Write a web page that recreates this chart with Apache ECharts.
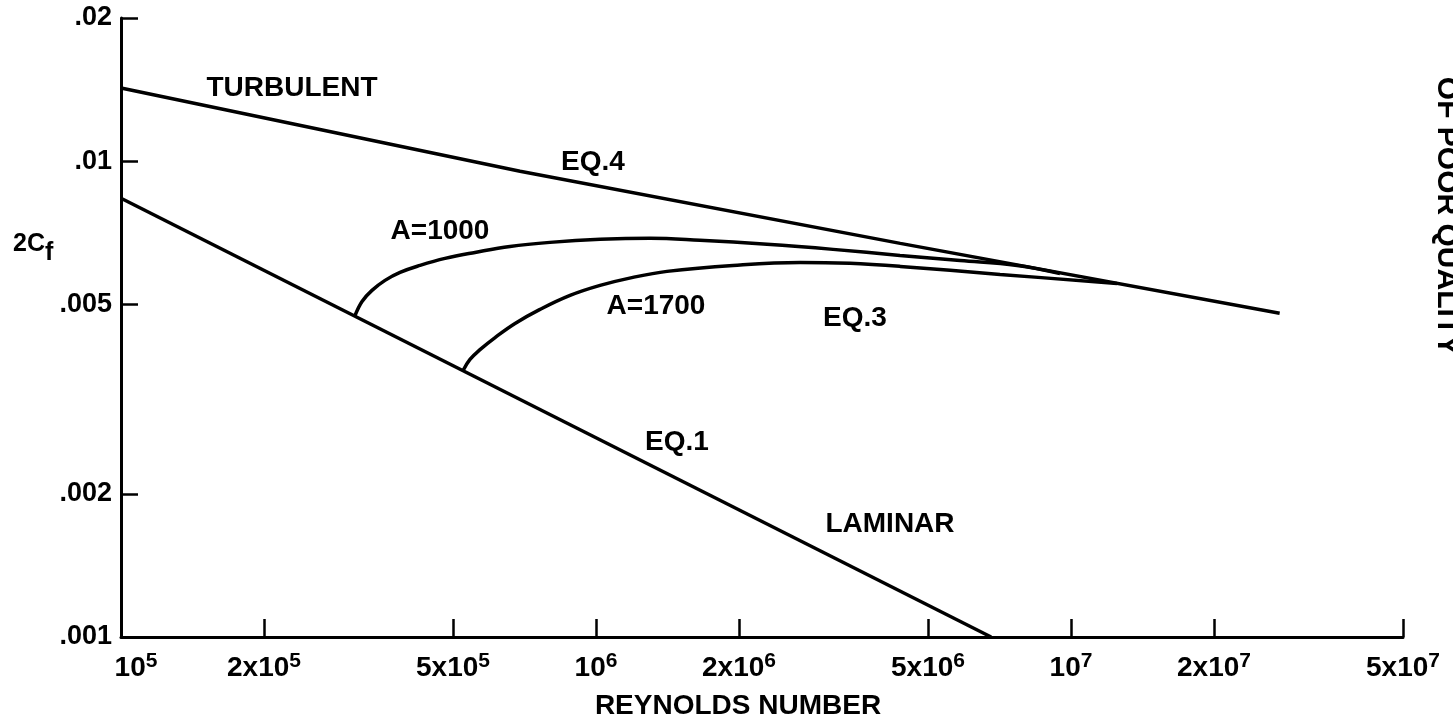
<!DOCTYPE html>
<html><head><meta charset="utf-8">
<script src="https://cdn.jsdelivr.net/npm/echarts@6/dist/echarts.min.js"></script>
<style>html,body{margin:0;padding:0;background:#fff}#c{width:1453px;height:728px}</style>
</head><body><div id="c"></div>
<script>
// ---- Data: Reynolds number and 2Cf ----
const turbulentRe = [1e5, 6.92e5, 4.37e6, 2.75e7];
const turbulentCf = [0.01425, 0.00953, 0.00672, 0.00479];
const laminarRe = [1e5, 6.79e6];
const laminarCf = [0.00836, 0.001];
const a1000Re = [3.11e5, 3.217e5, 3.376e5, 3.596e5, 3.868e5, 4.262e5, 4.81e5, 5.563e5, 6.59e5, 8.0e5, 1.02e6, 1.299e6, 1.655e6, 2.291e6, 3.155e6, 4.365e6, 5.84e6, 7.70e6, 9.48e6];
const a1000Cf = [0.004741, 0.005074, 0.005352, 0.005618, 0.005839, 0.00604, 0.006248, 0.006432, 0.006622, 0.006752, 0.006851, 0.006886, 0.006819, 0.006688, 0.006527, 0.00634, 0.006188, 0.00604, 0.00581];
const a1700Re = [5.25e5, 5.429e5, 5.699e5, 6.131e5, 6.754e5, 7.623e5, 8.818e5, 1.02e6, 1.196e6, 1.411e6, 1.943e6, 2.69e6, 3.425e6, 4.37e6, 7.09e6, 1.25e7];
const a1700Cf = [0.003631, 0.003831, 0.004018, 0.00426, 0.00456, 0.004881, 0.005223, 0.005482, 0.0057, 0.005868, 0.00604, 0.006129, 0.0061, 0.006011, 0.005782, 0.005536];

const xTickValues = [1e5, 2e5, 5e5, 1e6, 2e6, 5e6, 1e7, 2e7, 5e7];
const xTickBase = ['10', '2x10', '5x10', '10', '2x10', '5x10', '10', '2x10', '5x10'];
const xTickExp = ['5', '5', '5', '6', '6', '6', '7', '7', '7'];
const yTickValues = [0.001, 0.002, 0.005, 0.01, 0.02];
const yTickLabels = ['.001', '.002', '.005', '.01', '.02'];

// ---- Chart ----
const FONT = '"Liberation Sans", Arial, Helvetica, sans-serif';
const L = Math.log10;
const toPts = (xs, ys) => xs.map((x, i) => [L(x), L(ys[i])]);
const findIdx = (vals, v) => vals.findIndex(t => Math.abs(L(t) - v) < 1e-6);

const chart = echarts.init(document.getElementById('c'), null, {renderer: 'canvas'});
const lineStyle = {color: '#000', width: 3.5};
const baseSeries = {type: 'line', showSymbol: false, symbol: 'none', silent: true, lineStyle: lineStyle, z: 3};
const txt = (x, y, s) => ({type: 'text', x: x, y: y, style: {text: s, font: 'bold 28px ' + FONT, fill: '#000',
  align: 'center', verticalAlign: 'middle', textAlign: 'center', textVerticalAlign: 'middle'}});

chart.setOption({
  animation: false,
  backgroundColor: '#fff',
  grid: {left: 121, right: 50, top: 18, bottom: 91, containLabel: false},
  xAxis: {
    type: 'value',
    min: L(xTickValues[0]), max: L(xTickValues[xTickValues.length - 1]),
    name: 'REYNOLDS NUMBER', nameLocation: 'middle', nameGap: 55,
    nameTextStyle: {fontFamily: FONT, fontWeight: 'bold', fontSize: 28, color: '#000', padding: [0, 48, 0, 0]},
    axisLine: {show: true, onZero: false, lineStyle: {color: '#000', width: 3}},
    axisTick: {show: true, inside: true, length: 18, lineStyle: {color: '#000', width: 2.5},
      customValues: xTickValues.slice(1).map(L)},
    axisLabel: {
      show: true, margin: 14, customValues: xTickValues.map(L),
      formatter: v => { const i = findIdx(xTickValues, v); return i < 0 ? '' : (i === 0 ? '{p|}' : '') + '{b|' + xTickBase[i] + '}{s|' + xTickExp[i] + '}'; },
      rich: {
        b: {fontFamily: FONT, fontWeight: 'bold', fontSize: 28, color: '#000', lineHeight: 28, padding: [7, 0, 0, 0]},
        s: {fontFamily: FONT, fontWeight: 'bold', fontSize: 21, color: '#000', lineHeight: 20, verticalAlign: 'top'},
        p: {width: 30}
      }
    },
    splitLine: {show: false}
  },
  yAxis: {
    type: 'value',
    min: L(yTickValues[0]), max: L(yTickValues[yTickValues.length - 1]),
    axisLine: {show: true, onZero: false, lineStyle: {color: '#000', width: 3}},
    axisTick: {show: true, inside: true, length: 17, lineStyle: {color: '#000', width: 2.5},
      customValues: yTickValues.slice(1).map(L)},
    axisLabel: {
      show: true, margin: 9, customValues: yTickValues.map(L),
      fontFamily: FONT, fontWeight: 'bold', fontSize: 27, color: '#000',
      formatter: v => { const i = findIdx(yTickValues, v); return i < 0 ? '' : yTickLabels[i]; }
    },
    splitLine: {show: false}
  },
  series: [
    Object.assign({}, baseSeries, {name: 'Turbulent (Eq.4)', data: toPts(turbulentRe, turbulentCf)}),
    Object.assign({}, baseSeries, {name: 'Laminar (Eq.1)', data: toPts(laminarRe, laminarCf)}),
    Object.assign({}, baseSeries, {name: 'A=1000', smooth: 0.4, data: toPts(a1000Re, a1000Cf)}),
    Object.assign({}, baseSeries, {name: 'A=1700 (Eq.3)', smooth: 0.4, data: toPts(a1700Re, a1700Cf)})
  ],
  graphic: [
    txt(292, 88, 'TURBULENT'),
    txt(593, 162, 'EQ.4'),
    txt(440, 231, 'A=1000'),
    txt(656, 306, 'A=1700'),
    txt(855, 318, 'EQ.3'),
    txt(677, 442, 'EQ.1'),
    txt(890, 524, 'LAMINAR'),
    {type: 'text', x: 13, y: 244, style: {text: '{a|2C}{f|f}', align: 'left', verticalAlign: 'middle', textAlign: 'left', textVerticalAlign: 'middle',
      rich: {a: {fontFamily: FONT, fontWeight: 'bold', fontSize: 25, fill: '#000', color: '#000', lineHeight: 26},
             f: {fontFamily: FONT, fontWeight: 'bold', fontSize: 25, fill: '#000', color: '#000', lineHeight: 26, padding: [18, 0, 0, 0]}}}},
    {type: 'text', x: 1446, y: 216, rotation: -Math.PI / 2, style: {text: 'OF POOR QUALITY', font: 'bold 30px ' + FONT, fill: '#000', align: 'center', verticalAlign: 'middle', textAlign: 'center', textVerticalAlign: 'middle'}}
  ]
});
</script>
</body></html>
